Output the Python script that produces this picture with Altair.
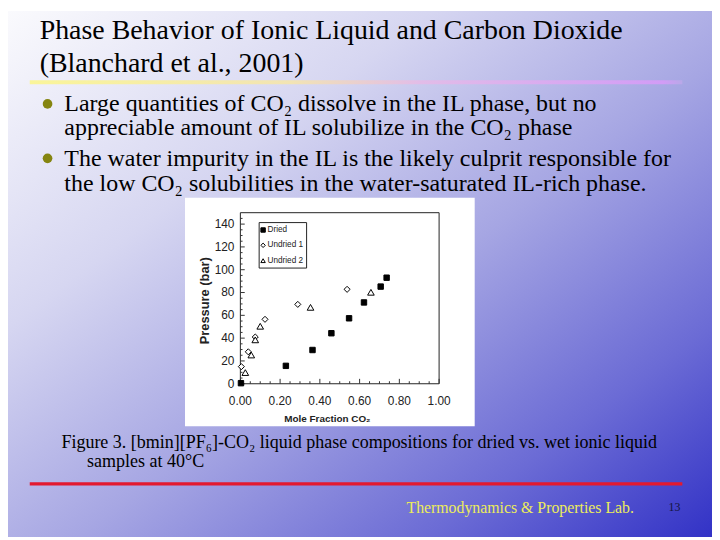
import altair as alt
import pandas as pd

# ---------------- data ----------------
series_names = ["Dried", "Undried 1", "Undried 2"]
dried_x = [0.003, 0.229, 0.363, 0.458, 0.547, 0.622, 0.706, 0.736]
dried_y = [0.5, 15.7, 29.6, 44.3, 57.4, 71.3, 85.2, 93.0]
undried1_x = [0.005, 0.040, 0.075, 0.124, 0.289, 0.537]
undried1_y = [15.0, 28.0, 41.0, 56.5, 69.6, 82.8]
undried2_x = [0.025, 0.055, 0.075, 0.100, 0.353, 0.657]
undried2_y = [9.8, 25.2, 38.5, 50.4, 67.0, 80.2]

x_major = [0.0, 0.2, 0.4, 0.6, 0.8, 1.0]
x_minor = [0.05, 0.1, 0.15, 0.25, 0.3, 0.35, 0.45, 0.5, 0.55, 0.65, 0.7, 0.75, 0.85, 0.9, 0.95]
y_major = [0, 20, 40, 60, 80, 100, 120, 140]
y_minor = [5, 10, 15, 25, 30, 35, 45, 50, 55, 65, 70, 75, 85, 90, 95, 105, 110, 115, 125, 130, 135, 145]

title_lines = ["Phase Behavior of Ionic Liquid and Carbon Dioxide", "(Blanchard et al., 2001)"]
bullet1 = ["Large quantities of CO\u2082 dissolve in the IL phase, but no",
           "appreciable amount of IL solubilize in the CO\u2082 phase"]
bullet2 = ["The water impurity in the IL is the likely culprit responsible for",
           "the low CO\u2082 solubilities in the water-saturated IL-rich phase."]
caption = ["Figure 3. [bmin][PF\u2086]-CO\u2082 liquid phase compositions for dried vs. wet ionic liquid",
           "samples at 40\u00b0C"]
footer = "Thermodynamics & Properties Lab."
page_no = "13"
x_title = "Mole Fraction CO\u2082"
y_title = "Pressure  (bar)"

# ---------------- tables ----------------
df = pd.DataFrame({
    "series": ["Dried"] * len(dried_x) + ["Undried 1"] * len(undried1_x) + ["Undried 2"] * len(undried2_x),
    "x": dried_x + undried1_x + undried2_x,
    "y": dried_y + undried1_y + undried2_y,
})
one = pd.DataFrame({"k": [0]})

# slide (whole page) size and the plot view inside it
W, H = 712, 532
X0, Y0 = 235, 204          # top-left of the plot view within the slide
PW, PH = 201, 173          # plot view size

SERIF = "Liberation Serif"
SANS = "Liberation Sans"
INK = "#222"


def vx(x):
    return alt.value(x - X0)


def vy(y):
    return alt.value(y - Y0)


def txt(s, x, y, size, font=SERIF, color="black", align="left", weight="normal", angle=0, baseline="alphabetic"):
    return alt.Chart(one).mark_text(
        text=s, font=font, fontSize=size, color=color, align=align,
        baseline=baseline, fontWeight=weight, angle=angle
    ).encode(x=vx(x), y=vy(y))


bg_grad = alt.LinearGradient(
    gradient="linear",
    stops=[alt.GradientStop(color="#fafafd", offset=0),
           alt.GradientStop(color="#d6d6f1", offset=0.3),
           alt.GradientStop(color="#a6a6e3", offset=0.55),
           alt.GradientStop(color="#6b6bd5", offset=0.8),
           alt.GradientStop(color="#3232c6", offset=1)],
    x1=0, y1=0, x2=1, y2=1)
bg = alt.Chart(one).mark_rect(fill=bg_grad).encode(x=vx(0), x2=vx(W), y=vy(0), y2=vy(H))

ul_grad = alt.LinearGradient(
    gradient="linear",
    stops=[alt.GradientStop(color="#faf59a", offset=0),
           alt.GradientStop(color="#f2e4b4", offset=0.4),
           alt.GradientStop(color="#e2bce8", offset=0.6),
           alt.GradientStop(color="#d29cf6", offset=0.97),
           alt.GradientStop(color="#b8a8e8", offset=1)],
    x1=0, y1=0, x2=1, y2=0)
underline = alt.Chart(one).mark_rect(fill=ul_grad).encode(x=vx(22), x2=vx(682), y=vy(70), y2=vy(74))

redline = alt.Chart(one).mark_rect(fill="#e3192f").encode(x=vx(22), x2=vx(682), y=vy(476.5), y2=vy(480))

bullets = [
    alt.Chart(one).mark_point(shape="circle", filled=True, size=95, color="#858510", opacity=1).encode(
        x=vx(40), y=vy(yy)) for yy in (94, 149)
]

texts = [
    txt(title_lines[0], 32, 28, 28.2),
    txt(title_lines[1], 32, 62, 28.2),
    txt(bullet1[0], 57, 101, 24.2),
    txt(bullet1[1], 57, 125, 24.2),
    txt(bullet2[0], 57, 157, 24.2),
    txt(bullet2[1], 57, 182, 24.2),
    txt(caption[0], 54, 441.5, 18.2),
    txt(caption[1], 80, 461.5, 18.2),
    txt(footer, 403, 507.5, 16, color="#ecec5a"),
    txt(page_no, 668, 505.5, 12, color="#14143c"),
]

whitebox = alt.Chart(one).mark_rect(fill="white").encode(x=vx(179), x2=vx(472), y=vy(189), y2=vy(420))

xs = alt.Scale(domain=[0, 1], nice=False, zero=False)
ys = alt.Scale(domain=[0, 150], nice=False, zero=False)
shape_scale = alt.Scale(domain=series_names, range=["square", "diamond", "triangle-up"])
fill_scale = alt.Scale(domain=series_names, range=["black", "white", "white"])
size_scale = alt.Scale(domain=series_names, range=[30, 45, 50])

frame = alt.Chart(one).mark_rect(fillOpacity=0, stroke=INK, strokeWidth=1).encode(
    x=alt.XDatum(0, scale=xs, axis=None), x2=alt.X2Datum(1),
    y=alt.YDatum(0, scale=ys, axis=None), y2=alt.Y2Datum(150))


def xticks(vals, length):
    d = pd.DataFrame({"v": vals})
    return alt.Chart(d).mark_rule(color="#333", strokeWidth=1).encode(
        x=alt.X("v:Q", scale=xs, axis=None),
        y=alt.YDatum(0, scale=ys, axis=None), y2=alt.Y2Datum(length))


def yticks(vals, length):
    d = pd.DataFrame({"v": vals})
    return alt.Chart(d).mark_rule(color="#333", strokeWidth=1).encode(
        y=alt.Y("v:Q", scale=ys, axis=None),
        x=alt.XDatum(0, scale=xs, axis=None), x2=alt.X2Datum(length))


tick_layers = [xticks(x_major, 4.3), xticks(x_minor, 2.2), yticks(y_major, 0.022), yticks(y_minor, 0.011)]

# tick labels, placed through the scales
x_labels = alt.Chart(pd.DataFrame({"v": x_major})).mark_text(
    font=SANS, fontSize=12, color=INK, baseline="middle", align="center", dy=17).encode(
    x=alt.X("v:Q", scale=xs, axis=None), y=alt.YDatum(0, scale=ys, axis=None),
    text=alt.Text("v:Q", format=".2f"))
y_labels = alt.Chart(pd.DataFrame({"v": y_major})).mark_text(
    font=SANS, fontSize=12, color=INK, baseline="middle", align="right", dx=-6).encode(
    y=alt.Y("v:Q", scale=ys, axis=None), x=alt.XDatum(0, scale=xs, axis=None),
    text=alt.Text("v:Q", format="d"))

# legend box inside the plot
legend_box = alt.Chart(one).mark_rect(fill="white", stroke=INK, strokeWidth=1).encode(
    x=vx(254), x2=vx(302), y=vy(214), y2=vy(260))
legend_rows = [221.5, 237, 252.5]
legend_items = []
for name, ry in zip(series_names, legend_rows):
    d = pd.DataFrame({"series": [name]})
    legend_items.append(alt.Chart(d).mark_point(filled=True, stroke="black", strokeWidth=1, opacity=1, size=20).encode(
        x=vx(258), y=vy(ry),
        shape=alt.Shape("series:N", scale=shape_scale, legend=None),
        fill=alt.Fill("series:N", scale=fill_scale, legend=None)))
    legend_items.append(alt.Chart(d).mark_text(font=SANS, fontSize=8.3, color=INK, align="left", baseline="middle").encode(
        x=vx(262.5), y=vy(ry), text="series:N"))

scatter = alt.Chart(df).mark_point(filled=True, stroke="black", strokeWidth=1, opacity=1).encode(
    x=alt.X("x:Q", scale=xs, axis=None),
    y=alt.Y("y:Q", scale=ys, axis=None),
    shape=alt.Shape("series:N", scale=shape_scale, legend=None),
    fill=alt.Fill("series:N", scale=fill_scale, legend=None),
    size=alt.Size("series:N", scale=size_scale, legend=None),
)

axis_titles = [
    txt(y_title, 199, 293, 13, font=SANS, weight="bold", align="center", angle=270, baseline="middle", color=INK),
    txt(x_title, 323, 412.5, 10, font=SANS, weight="bold", align="center", baseline="middle", color=INK),
]

chart = alt.layer(
    bg, underline, redline, *bullets, *texts, whitebox, frame, *tick_layers,
    x_labels, y_labels, *axis_titles, legend_box, *legend_items, scatter
).properties(
    width=PW, height=PH,
    padding={"left": X0, "top": Y0, "right": W - X0 - PW, "bottom": H - Y0 - PH},
    autosize=alt.AutoSizeParams(type="none"),
).configure_view(stroke=None)

chart.save("out.html", embed_options={"renderer": "svg", "actions": False})
